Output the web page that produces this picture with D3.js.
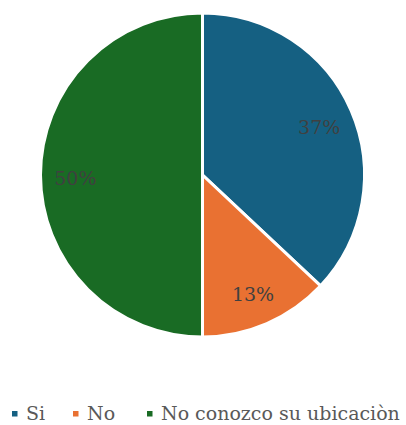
<!DOCTYPE html>
<html>
<head>
<meta charset="utf-8">
<script src="https://cdn.jsdelivr.net/npm/d3@7"></script>
<style>
  body { margin: 0; background: #fff; }
</style>
</head>
<body>
<svg id="chart" width="406" height="425"></svg>
<script>
const categories = ['Si', 'No', 'No conozco su ubicaciòn'];
const values = [37, 13, 50];
const colors = ['#156082', '#e97132', '#196b24'];

const fontFamily = "'DejaVu Serif', 'Liberation Serif', serif";
const cx = 202.5;
const cy = 175;
const radius = 162;

const svg = d3.select('#chart');

const pie = d3.pie().sort(null).value(d => d.value);
const arcs = pie(categories.map((c, i) => ({ name: c, value: values[i], color: colors[i] })));

const arc = d3.arc().innerRadius(0).outerRadius(radius);
const labelArc = d3.arc().innerRadius(radius * 0.785).outerRadius(radius * 0.785);

const g = svg.append('g').attr('transform', `translate(${cx},${cy})`);

g.selectAll('path.slice')
  .data(arcs)
  .enter()
  .append('path')
  .attr('class', 'slice')
  .attr('d', arc)
  .attr('fill', d => d.data.color)
  .attr('stroke', '#fff')
  .attr('stroke-width', 3)
  .attr('stroke-linejoin', 'miter');

g.selectAll('text.label')
  .data(arcs)
  .enter()
  .append('text')
  .attr('class', 'label')
  .attr('transform', d => `translate(${labelArc.centroid(d)})`)
  .attr('text-anchor', 'middle')
  .attr('dy', '0.5em')
  .attr('font-family', fontFamily)
  .attr('font-size', 19)
  .attr('fill', '#404040')
  .text(d => `${d.data.value}%`);

// legend
const legendX = [12, 73, 147];
const legendY = 414;
const item = svg.append('g').selectAll('g.item')
  .data(categories)
  .enter()
  .append('g')
  .attr('class', 'item')
  .attr('transform', (d, i) => `translate(${legendX[i]},${legendY})`);

item.append('rect')
  .attr('x', 0)
  .attr('y', -3)
  .attr('width', 5.5)
  .attr('height', 5.5)
  .attr('fill', (d, i) => colors[i]);

item.append('text')
  .attr('x', 14)
  .attr('y', 6)
  .attr('font-family', fontFamily)
  .attr('font-size', 19)
  .attr('fill', '#595959')
  .text(d => d);
</script>
</body>
</html>
